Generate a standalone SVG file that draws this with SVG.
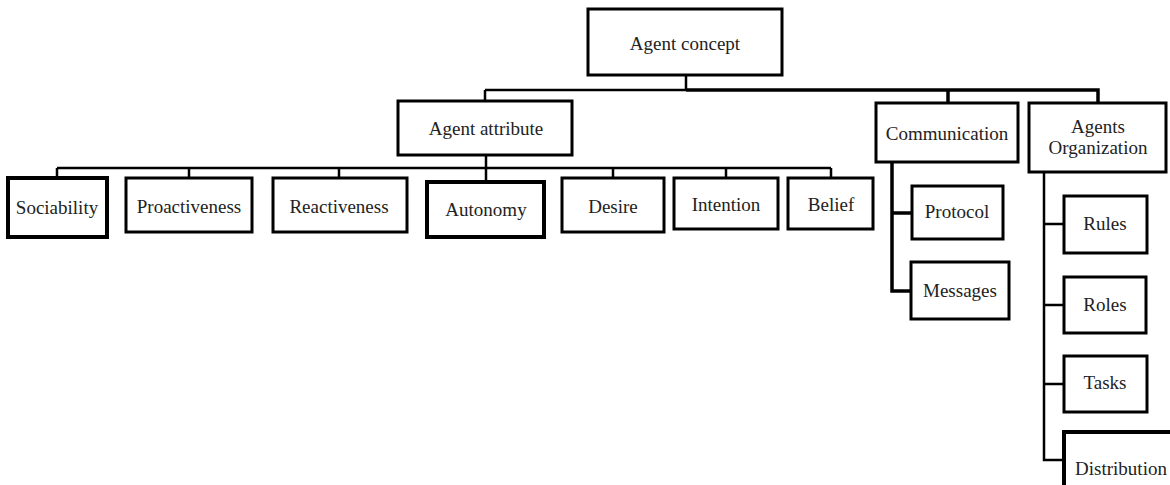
<svg xmlns="http://www.w3.org/2000/svg" width="1170" height="485" viewBox="0 0 1170 485">
<style>
.box{fill:#fff;stroke:#000;stroke-width:3}
.t{font-family:"Liberation Serif","Times New Roman",serif;font-size:19px;fill:#222;text-anchor:middle}
.c{fill:none;stroke:#000;stroke-width:2.5}
.ct{fill:none;stroke:#000;stroke-width:3.5}
</style>
<rect width="1170" height="485" fill="#fff"/>
<g id="connectors">
<path class="c" d="M686,75V90M485,90H686M485,90V101"/>
<path class="ct" d="M686,90H1098V103M948,90V103"/>
<path class="c" d="M486,155V182M57,168H831M57,168V178M189,168V178M339,168V178M613,168V178M726,168V178M831,168V178"/>
<path class="ct" d="M892,162V291H911M892,213H912"/>
<path class="c" d="M1044,172V460H1064M1044,224H1064M1044,305H1064M1044,384H1064"/>
</g>
<g id="agent-concept"><rect class="box" x="588" y="9" width="194" height="66"/><text class="t" x="685" y="50">Agent concept</text></g>
<g id="agent-attribute"><rect class="box" x="398" y="101" width="174" height="54"/><text class="t" x="486" y="135">Agent attribute</text></g>
<g id="sociability"><rect class="box" x="8" y="178" width="99" height="59" style="stroke-width:4"/><text class="t" x="57" y="214">Sociability</text></g>
<g id="proactiveness"><rect class="box" x="126" y="178" width="126" height="54"/><text class="t" x="189" y="213">Proactiveness</text></g>
<g id="reactiveness"><rect class="box" x="273" y="178" width="134" height="54"/><text class="t" x="339" y="213">Reactiveness</text></g>
<g id="autonomy"><rect class="box" x="427" y="182" width="117" height="55" style="stroke-width:4"/><text class="t" x="486" y="216">Autonomy</text></g>
<g id="desire"><rect class="box" x="562" y="178" width="102" height="54"/><text class="t" x="613" y="213">Desire</text></g>
<g id="intention"><rect class="box" x="674" y="178" width="104" height="51"/><text class="t" x="726" y="211">Intention</text></g>
<g id="belief"><rect class="box" x="788" y="178" width="85" height="51"/><text class="t" x="831" y="211">Belief</text></g>
<g id="communication"><rect class="box" x="876" y="103" width="142" height="59"/><text class="t" x="947" y="140">Communication</text></g>
<g id="agents-organization"><rect class="box" x="1029" y="103" width="137" height="69"/><text class="t" x="1098" y="133">Agents</text><text class="t" x="1098" y="154">Organization</text></g>
<g id="protocol"><rect class="box" x="912" y="186" width="91" height="53"/><text class="t" x="957" y="218">Protocol</text></g>
<g id="messages"><rect class="box" x="911" y="262" width="98" height="57"/><text class="t" x="960" y="297">Messages</text></g>
<g id="rules"><rect class="box" x="1064" y="196" width="83" height="57"/><text class="t" x="1105" y="230">Rules</text></g>
<g id="roles"><rect class="box" x="1064" y="277" width="82" height="56"/><text class="t" x="1105" y="311">Roles</text></g>
<g id="tasks"><rect class="box" x="1064" y="356" width="83" height="56"/><text class="t" x="1105" y="389">Tasks</text></g>
<g id="distribution"><rect class="box" x="1064" y="432" width="130" height="70" style="stroke-width:4"/><text class="t" x="1121" y="475">Distribution</text></g>
</svg>
